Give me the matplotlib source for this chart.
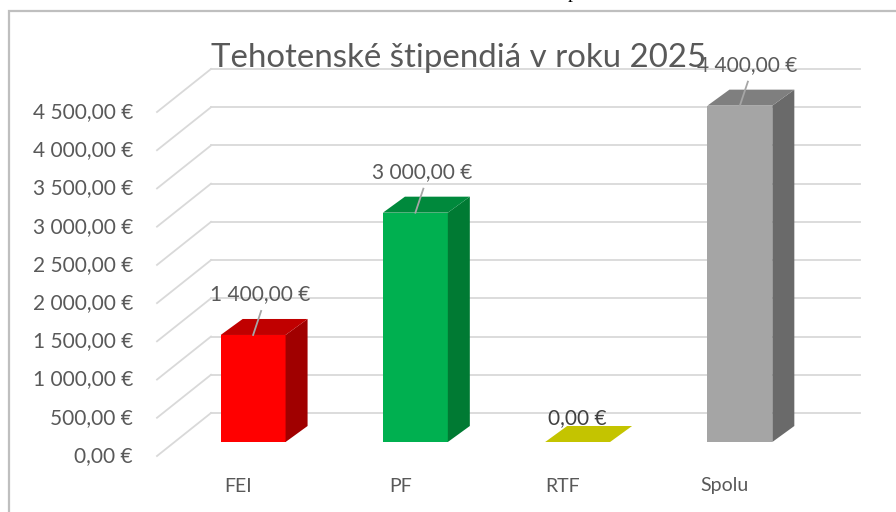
import matplotlib.pyplot as plt
import matplotlib.transforms as mtransforms
from matplotlib.patches import Polygon, Rectangle
from matplotlib.lines import Line2D

# data
categories = ['FEI', 'PF', 'RTF', 'Spolu']
values = [1400, 3000, 0, 4400]
ticks = [0, 500, 1000, 1500, 2000, 2500, 3000, 3500, 4000, 4500]
title = 'Tehotenské štipendiá v roku 2025'

# colours: front, side, top
front_colors = ['#FF0000', '#00B050', '#C8C800', '#A5A5A5']
side_colors = ['#A00000', '#007A33', '#A0A000', '#6A6A6A']
top_colors = ['#C00000', '#00893C', '#C4C400', '#7F7F7F']

FONT = 'Lato'
GRID = '#D9D9D9'
TEXT = '#595959'

# fake 3d offsets in pixels (display coords, y up)
BAR_D = (22, 16)
WALL_D = (39, 29)
FLOOR_D = (-15, -14)

W, H = 896, 512
fig = plt.figure(figsize=(W / 100, H / 100), dpi=100)
ax = fig.add_axes([172 / W, (H - 442) / H, 649 / W, 344 / H])
ax.set_xlim(-0.5, len(categories) - 0.5)
ax.set_ylim(0, 4500)
ax.axis('off')

ident = mtransforms.IdentityTransform()


def disp(x, y, off=(0, 0)):
    px, py = ax.transData.transform((x, y))
    return px + off[0], py + off[1]


def money(v):
    return f'{v:,.2f}'.replace(',', ' ').replace('.', ',') + ' €'


# walls / gridlines
x_left, x_right = ax.get_xlim()
for t in ticks:
    a = disp(x_left, t, WALL_D)
    b = disp(x_right, t, WALL_D)
    c = disp(x_left, t, FLOOR_D)
    ax.add_line(Line2D([a[0], b[0]], [a[1], b[1]], color=GRID, lw=1.3,
                       transform=ident, zorder=1, clip_on=False))
    ax.add_line(Line2D([c[0], a[0]], [c[1], a[1]], color=GRID, lw=1.3,
                       transform=ident, zorder=1, clip_on=False))
    fig.text(c[0] - 24, c[1], money(t), transform=ident, ha='right', va='center',
             fontsize=15, color=TEXT, family=FONT)

# bars
xs = list(range(len(categories)))
bw = 0.4
ax.bar(xs, values, width=bw, color=front_colors, zorder=3)
for i, v in enumerate(values):
    l0 = disp(i - bw / 2, v)
    r0 = disp(i + bw / 2, v)
    rb = disp(i + bw / 2, 0)
    top = [l0, r0, (r0[0] + BAR_D[0], r0[1] + BAR_D[1]), (l0[0] + BAR_D[0], l0[1] + BAR_D[1])]
    side = [rb, r0, (r0[0] + BAR_D[0], r0[1] + BAR_D[1]), (rb[0] + BAR_D[0], rb[1] + BAR_D[1])]
    if v > 0:
        ax.add_patch(Polygon(side, closed=True, facecolor=side_colors[i], edgecolor='none',
                             transform=ident, zorder=3, clip_on=False))
    ax.add_patch(Polygon(top, closed=True, facecolor=top_colors[i], edgecolor='none',
                         transform=ident, zorder=3, clip_on=False))

    # data labels
    p = disp(i, v)
    if v > 0:
        ax.add_line(Line2D([p[0], p[0] + 8], [p[1], p[1] + 24], color='#A6A6A6', lw=1.3,
                           transform=ident, zorder=4, clip_on=False))
        fig.text(p[0] + 7, p[1] + 41, money(v), transform=ident, ha='center', va='center',
                 fontsize=15, color=TEXT, family=FONT, zorder=5)
    else:
        fig.text(p[0], p[1] + 24, money(v), transform=ident, ha='center', va='center',
                 fontsize=15, color='#404040', family=FONT, zorder=5)

    # category labels
    q = disp(i, 0, FLOOR_D)
    fig.text(q[0], q[1] - 30, categories[i], transform=ident, ha='center', va='center',
             fontsize=14, color=TEXT, family=FONT)

# title
fig.text(458.5, H - 67, title, transform=ident, ha='center', va='baseline',
         fontsize=23.8, color=TEXT, family=FONT)

# frame of the chart object and a cut off letter from the page above
fig.add_artist(Rectangle((9, -20), 1000, H - 11 + 20, fill=False, edgecolor='#BFBFBF',
                         lw=1.6, transform=ident))
fig.text(573, H + 1.5, 'p', transform=ident, ha='center', va='baseline',
         fontsize=14, color='black', family='Liberation Serif')

fig.savefig('out.png', dpi=100, facecolor='white')
